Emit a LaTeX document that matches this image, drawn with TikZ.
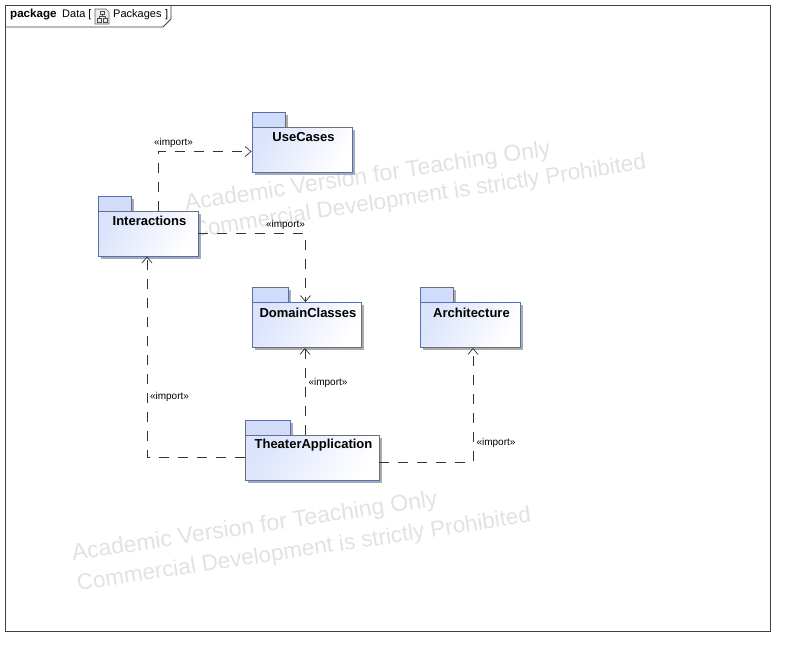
\documentclass[tikz,border=0pt]{standalone}
\usepackage{fontspec}
\setmainfont{Liberation Sans}
\usetikzlibrary{arrows.meta,shadows}
\definecolor{pkgline}{HTML}{5F6F9C}
\definecolor{pkgfill}{HTML}{CCD8FA}
\definecolor{wm}{HTML}{E2E2E2}
\definecolor{dep}{HTML}{333333}
\tikzset{
  x=1pt,y=-1pt,
  pkgbody/.style={draw=pkgline,line width=0.9pt,inner sep=0pt,shape=rectangle,
    left color=pkgfill!70!white,right color=white,shading angle=60,
    general shadow={fill=black!33,shadow xshift=2.5pt,shadow yshift=-2.5pt}},
  pkgtab/.style={draw=pkgline,line width=0.9pt,inner sep=0pt,shape=rectangle,fill=pkgfill!90!white,
    general shadow={fill=black!33,shadow xshift=2.5pt,shadow yshift=-2.5pt}},
  pkgtitle/.style={font=\fontsize{13}{15}\selectfont\bfseries,inner sep=0pt},
  deparrow/.style={draw=dep,line width=0.7pt,dash pattern=on 10pt off 9pt,-{Straight Barb[length=6pt,width=10pt,line width=0.7pt]}},
  deplabel/.style={font=\fontsize{10}{12}\selectfont,inner sep=0pt,fill=none},
  watermark/.style={font=\fontsize{22.5}{25}\selectfont,text=wm,rotate=8.6,inner sep=0pt,anchor=west},
  watermarktop/.style={watermark,font=\fontsize{23}{25}\selectfont},
  frametext/.style={font=\fontsize{11}{13}\selectfont,inner sep=0pt,anchor=west}
}
\begin{document}
\begin{tikzpicture}
\useasboundingbox (0,0) rectangle (785,646);
\fill[white] (0,0) rectangle (785,646);
% watermarks
\node[watermarktop] (wa1) at (185,205) {Academic Version for Teaching Only};
\node[watermark] (wa2) at (192,232) {Commercial Development is strictly Prohibited};
\node[watermarktop] (wb1) at (72,555) {Academic Version for Teaching Only};
\node[watermark] (wb2) at (77,585) {Commercial Development is strictly Prohibited};
% frame
\draw[black!75,line width=0.8pt] (5,5) rectangle (770,631);
\draw[black!75,line width=0.8pt] (5,27) -- (163,27) -- (171,19) -- (171,5);
\node[frametext,font=\fontsize{11.6}{13}\selectfont\bfseries] (fk) at (10,14.5) {package};
\node[frametext] (fn) at (62,14.5) {Data [};
\node[frametext] (fd) at (113,14.5) {Packages};
\node[frametext] (fe) at (165,14.5) {]};
% icon
\draw[black!60,fill=black!8,line width=0.6pt] (95,9) -- (106,9) -- (109,12) -- (109,24) -- (95,24) -- cycle;
\draw[black!70,line width=0.6pt] (100,11) rectangle (104,14.5) (97,18.5) rectangle (101,22) (103,18.5) rectangle (107,22)
  (102,14.5) -- (102,16.5) (99,18.5) -- (99,16.5) -- (105,16.5) -- (105,18.5);
% packages
\node[pkgtab,minimum width=33.5pt,minimum height=16pt] (usecasestab) at (268.75,120) {};
\node[pkgbody,minimum width=100pt,minimum height=45pt] (usecases) at (302,149.5) {};
\node[pkgtab,minimum width=33.5pt,minimum height=16pt] (interactionstab) at (114.75,204) {};
\node[pkgbody,minimum width=100pt,minimum height=45pt] (interactions) at (148,233.5) {};
\node[pkgtab,minimum width=36.5pt,minimum height=16pt] (domaintab) at (270.25,295) {};
\node[pkgbody,minimum width=109pt,minimum height=45pt] (domain) at (306.5,325) {};
\node[pkgtab,minimum width=33.5pt,minimum height=16pt] (archtab) at (436.75,295) {};
\node[pkgbody,minimum width=100pt,minimum height=45pt] (arch) at (470,325) {};
\node[pkgtab,minimum width=45.5pt,minimum height=16pt] (theatertab) at (267.75,428) {};
\node[pkgbody,minimum width=134pt,minimum height=45pt] (theater) at (312,457.5) {};
\node[pkgtitle] (usecasest) at ([yshift=-10.5pt,xshift=1.5pt]usecases.north) {UseCases};
\node[pkgtitle] (interactionst) at ([yshift=-10.5pt,xshift=1.5pt]interactions.north) {Interactions};
\node[pkgtitle] (domaint) at ([yshift=-10.5pt,xshift=1.5pt]domain.north) {DomainClasses};
\node[pkgtitle] (archt) at ([yshift=-10.5pt,xshift=1.5pt]arch.north) {Architecture};
\node[pkgtitle] (theatert) at ([yshift=-10.5pt,xshift=1.5pt]theater.north) {TheaterApplication};
% connectors
\draw[deparrow] ([xshift=10pt]interactions.north) |- ([yshift=-2pt]usecases.west);
\draw[deparrow] (interactions.east) -| ([xshift=-1pt]domain.north);
\draw[deparrow] (theater.west) -| ([xshift=-1pt]interactions.south);
\draw[deparrow] ([xshift=-7pt]theater.north) -- ([xshift=-1.5pt]domain.south);
\draw[deparrow] ([yshift=-5pt]theater.east) -| ([xshift=3pt]arch.south);
% labels
\node[deplabel] (l1) at (173.5,142.5) {«import»};
\node[deplabel] (l2) at (285.5,224.5) {«import»};
\node[deplabel] (l3) at (169.5,396.5) {«import»};
\node[deplabel] (l4) at (328,382.5) {«import»};
\node[deplabel] (l5) at (496,442.5) {«import»};
\end{tikzpicture}
\end{document}
